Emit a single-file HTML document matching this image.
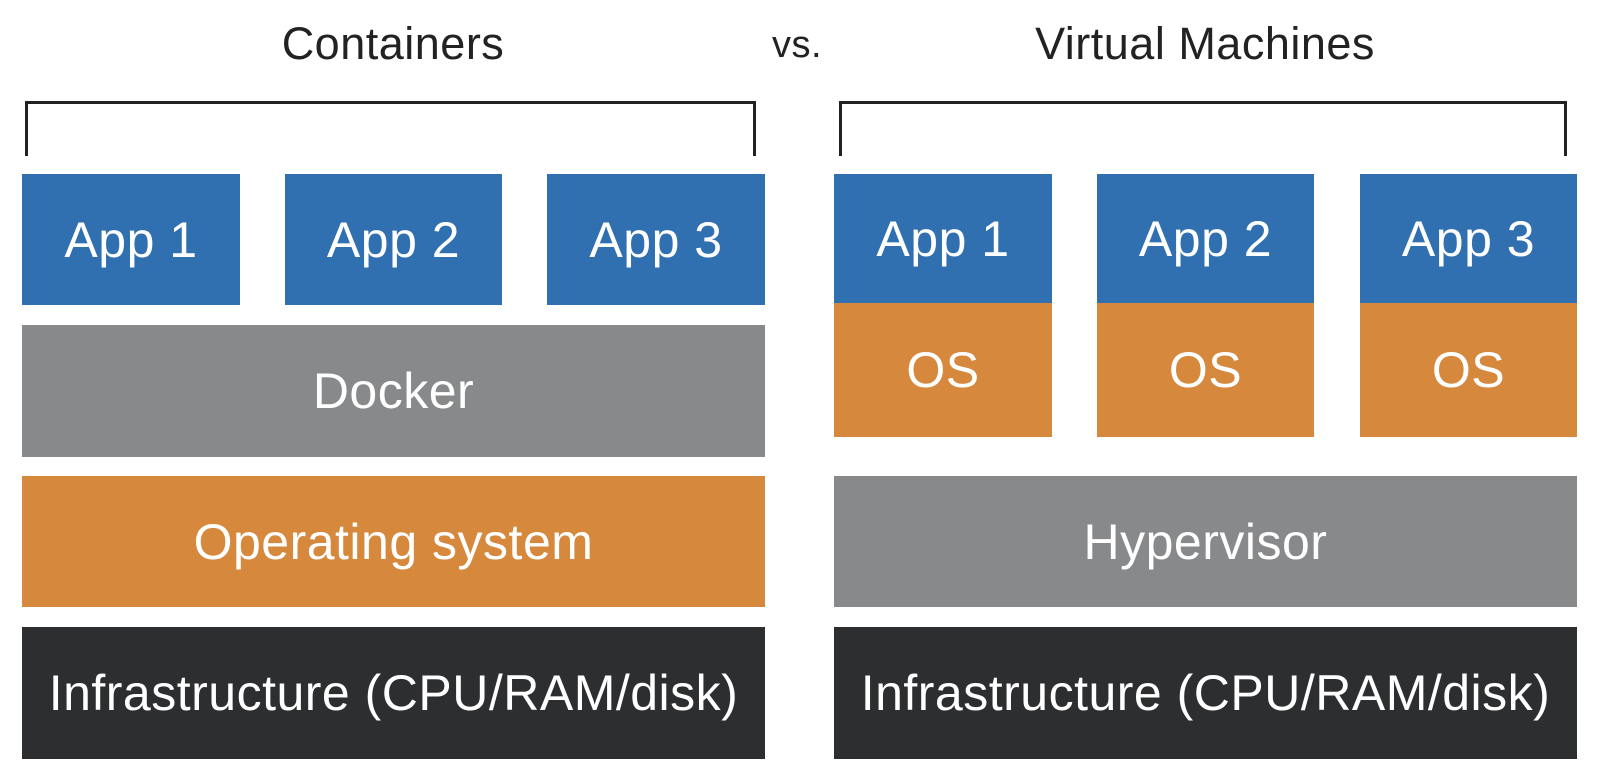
<!DOCTYPE html>
<html><head><style>
body{margin:0;width:1606px;height:780px;background:#fff;position:relative;overflow:hidden;font-family:"Liberation Sans",sans-serif}
.b{position:absolute;display:flex;align-items:center;justify-content:center;color:#fff;font-size:50px;letter-spacing:0.5px}
.t{position:absolute;font-size:45px;color:#222;transform:translateX(-50%);top:18px;white-space:nowrap;letter-spacing:0.5px}
.br{position:absolute;border:3px solid #222;border-bottom:none;top:101px;height:52px}
.blue{background:#3070b0}.or{background:#d6883c}.gr{background:#88898b}.dk{background:#2d2e30}
</style></head><body>
<div class="t" style="left:393px">Containers</div>
<div class="t" style="left:797px;font-size:38px;top:24px">vs.</div>
<div class="t" style="left:1205px">Virtual Machines</div>
<div class="br" style="left:25px;width:725px"></div>
<div class="br" style="left:839px;width:722px"></div>

<div class="b blue" style="left:22px;top:174px;width:218px;height:131px">App 1</div>
<div class="b blue" style="left:285px;top:174px;width:217px;height:131px">App 2</div>
<div class="b blue" style="left:547px;top:174px;width:218px;height:131px">App 3</div>
<div class="b gr" style="left:22px;top:325px;width:743px;height:132px">Docker</div>
<div class="b or" style="left:22px;top:476px;width:743px;height:131px">Operating system</div>
<div class="b dk" style="left:22px;top:627px;width:743px;height:132px">Infrastructure (CPU/RAM/disk)</div>

<div class="b blue" style="left:834px;top:174px;width:218px;height:129px">App 1</div>
<div class="b blue" style="left:1097px;top:174px;width:217px;height:129px">App 2</div>
<div class="b blue" style="left:1360px;top:174px;width:217px;height:129px">App 3</div>
<div class="b or" style="left:834px;top:303px;width:218px;height:134px">OS</div>
<div class="b or" style="left:1097px;top:303px;width:217px;height:134px">OS</div>
<div class="b or" style="left:1360px;top:303px;width:217px;height:134px">OS</div>
<div class="b gr" style="left:834px;top:476px;width:743px;height:131px">Hypervisor</div>
<div class="b dk" style="left:834px;top:627px;width:743px;height:132px">Infrastructure (CPU/RAM/disk)</div>
</body></html>
